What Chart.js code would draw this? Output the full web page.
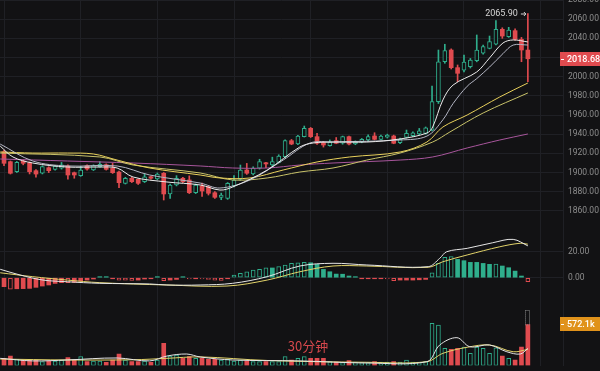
<!DOCTYPE html>
<html>
<head>
<meta charset="utf-8">
<script src="https://cdn.jsdelivr.net/npm/chart.js@4.4.1/dist/chart.umd.min.js"></script>
<style>
  html, body { margin: 0; padding: 0; background: #121214; }
  #wrap { position: relative; width: 600px; height: 371px; overflow: hidden; background: #121214; }
  canvas { position: absolute; left: 0; }
</style>
</head>
<body>
<div id="wrap">
  <canvas id="mainChart" width="600" height="230" style="top:0"></canvas>
  <canvas id="macdChart" width="600" height="68" style="top:230px"></canvas>
  <canvas id="volChart" width="600" height="73" style="top:298px"></canvas>
</div>
<script>
// 30 minute candles, oldest first
const opens  = [1921.7,1911.3,1900.8,1912.0,1910.2,1901.9,1899.2,1905.0,1903.3,1904.4,1906.8,1899.8,1896.7,1907.1,1902.6,1906.1,1908.1,1904.4,1900.5,1888.7,
                1893.9,1892.9,1890.4,1895.6,1893.2,1899.2,1877.6,1887.0,1894.0,1892.2,1878.9,1886.0,1885.2,1878.9,1874.1,1873.0,1885.9,1892.9,1902.6,1898.4,
                1904.4,1910.2,1907.8,1910.6,1916.5,1933.2,1929.7,1937.4,1946.1,1937.4,1931.1,1928.0,1933.2,1930.5,1937.4,1929.7,1932.1,1933.9,1938.1,1934.6,
                1936.8,1938.1,1931.1,1936.7,1938.4,1940.2,1940.9,1944.3,1973.9,2015.6,2027.8,2009.4,2006.9,2010.4,2016.7,2024.4,2029.6,2033.8,2049.4,2041.7,
                2048.0,2039.0,2027.8];
const highs  = [1923.5,1912.0,1911.5,1913.0,1911.0,1903.0,1907.0,1906.0,1907.5,1910.5,1908.0,1900.5,1906.5,1908.0,1908.0,1911.5,1909.0,1909.5,1901.5,1895.0,
                1895.0,1893.5,1898.5,1896.0,1899.5,1900.0,1888.0,1896.7,1895.0,1896.5,1888.0,1889.0,1886.0,1880.0,1878.5,1889.5,1896.7,1907.8,1909.5,1906.0,
                1913.8,1910.5,1916.0,1918.5,1934.0,1934.5,1938.8,1948.5,1947.0,1941.0,1932.5,1934.0,1936.5,1938.0,1938.0,1933.0,1935.5,1939.2,1941.5,1939.0,
                1940.0,1939.0,1936.0,1944.3,1942.5,1946.0,1947.5,1990.3,2027.8,2033.8,2029.0,2012.2,2022.6,2019.0,2043.5,2033.0,2042.4,2058.4,2051.0,2051.5,
                2050.0,2041.0,2065.9];
const lows   = [1907.1,1898.4,1900.0,1908.0,1898.5,1895.0,1898.5,1899.9,1902.5,1903.5,1893.0,1894.0,1896.0,1902.5,1902.0,1905.5,1902.5,1899.0,1884.1,1888.0,
                1889.5,1887.5,1889.5,1893.0,1892.5,1871.3,1873.0,1886.0,1889.5,1878.0,1878.0,1875.0,1876.5,1873.0,1871.6,1872.0,1885.0,1892.0,1898.0,1897.5,
                1903.5,1905.0,1906.0,1910.0,1915.5,1929.0,1929.0,1937.0,1936.5,1929.3,1926.5,1927.5,1930.0,1929.5,1928.7,1929.0,1931.0,1933.0,1934.0,1934.0,
                1936.0,1930.0,1930.0,1936.0,1937.5,1939.5,1940.0,1943.5,1972.0,2014.0,2008.0,1994.8,2005.0,2009.0,2015.5,2023.5,2029.0,2033.0,2040.0,2041.0,
                2038.0,2015.6,1994.8];
const closes = [1909.6,1899.2,1910.6,1909.6,1900.8,1898.4,1906.1,1901.9,1906.8,1908.1,1897.4,1897.4,1902.6,1903.6,1907.1,1908.6,1903.3,1899.8,1889.4,1893.9,
                1890.4,1888.7,1895.6,1894.0,1898.4,1877.6,1886.9,1894.0,1890.4,1878.9,1886.9,1880.7,1878.3,1874.1,1876.5,1888.7,1892.2,1902.6,1899.2,1904.6,
                1911.3,1908.9,1911.3,1917.2,1933.2,1929.7,1938.1,1946.1,1937.4,1930.5,1928.7,1932.1,1930.5,1937.4,1929.7,1932.1,1934.6,1937.4,1934.6,1938.1,
                1939.1,1930.5,1934.6,1940.9,1941.5,1943.6,1946.7,1973.9,2015.6,2027.1,2009.4,2003.5,2015.3,2017.4,2027.8,2031.3,2036.5,2049.4,2042.4,2048.7,
                2039.0,2027.8,2018.68];
// volume in thousands
const volumes = [100,132,87,77,77,77,53,63,63,77,109,77,123,53,63,63,45,77,160,77,
                 53,53,63,45,77,310,132,146,100,123,100,100,87,87,77,87,63,77,63,53,
                 53,53,53,53,123,77,100,123,100,100,100,56,46,40,70,46,40,40,56,46,
                 46,56,46,77,46,46,56,589,565,240,226,240,258,170,258,240,170,245,132,100,
                 77,258,572.1];
const volEstimate = 774;
// MACD histogram
const macdHist = [-6.9,-8.9,-8.5,-8.4,-8.2,-7.4,-6.4,-5.6,-4.4,-3.8,-3.9,-3.6,-2.6,-1.8,-1.0,0.8,0.8,-0.8,-1.8,-1.9,
                  -2.0,-1.8,-1.0,-0.8,0.8,-2.3,-1.8,-1.3,0.6,-0.9,-0.8,-0.9,-1.3,-1.8,-2.0,-0.8,2.0,3.3,4.6,5.9,
                  6.4,7.7,7.5,8.5,9.7,11.0,11.5,11.8,11.5,10.3,6.4,4.6,2.8,2.7,1.3,0.8,-0.8,-0.8,-0.8,-0.8,
                  -0.9,-2.3,-1.8,-1.8,-1.8,-1.6,-1.3,3.8,11.0,15.6,16.2,14.1,13.1,11.8,11.8,11.0,10.3,10.5,9.0,7.7,
                  5.1,1.3,-3.1];
// lines as [candle index, value]
const ma5 = [[-0.6,1927.6],[1.4,1916.2],[4.5,1909.9],[9.9,1905.7],[15,1905.7],[17.7,1904.7],[20.2,1895.3],[25.5,1890.1],[30.7,1887],[33.8,1881.7],
             [35.8,1884.9],[41.2,1902.6],[46.3,1926.6],[48.4,1930.8],[51.5,1931.8],[56.8,1931.8],[62,1935],[66.2,1941.2],[67.1,1947.5],[68.7,1975.7],
             [70.3,1991.3],[74,2004.9],[76,2019.5],[78.1,2035.1],[79.7,2038.3],[82,2036.2]];
const ma10 = [[-0.6,1929.7],[4.5,1912],[9.9,1906.8],[17.7,1906.8],[22.8,1897.4],[30.7,1889],[33.8,1883.8],[38.5,1892.2],[43.7,1913],[47.9,1930.8],
              [51.5,1931.8],[62,1933.9],[66.2,1938],[68.7,1955],[70.3,1972],[72.5,1990],[74,1998],[76,2010],[78.1,2024],[79.7,2033],[82,2033]];
const ma20 = [[-0.6,1921.4],[4.5,1920.3],[9.9,1920.3],[14,1919.3],[17.7,1913],[22.8,1904.7],[30.7,1897.4],[33.8,1894.3],[38.5,1894.3],[43.7,1902.6],
              [49,1911],[54.1,1916.2],[62,1921.4],[66.2,1931.8],[68.7,1947.5],[72.5,1960],[77.6,1978.8],[82,1993.4]];
const ma30 = [[-0.6,1920.3],[15,1916.2],[20.2,1907.8],[30.7,1899.5],[35.8,1892.2],[41.2,1894.3],[46.3,1900.5],[51.5,1904.7],[56.8,1913],[62,1920.3],
              [67.1,1931.8],[69.8,1942.3],[75,1962.1],[82,1983]];
const ma60 = [[-0.6,1914.1],[9.9,1912],[20.2,1909.9],[30.7,1906.8],[35.8,1904.7],[41.2,1904.7],[46.3,1907.8],[51.5,1909.9],[62,1913],[67.1,1916.2],
              [72.5,1925.6],[77.6,1933.9],[82,1940.2]];
const dif = [[-0.6,6.5],[2.5,2.1],[6.1,-1.8],[9.9,-3.1],[15,-4.3],[22.8,-4.8],[25.5,-5.6],[30.7,-5.6],[35.8,-4.3],[41.2,0.8],
             [46.3,9.0],[51.5,11.1],[56.8,9.8],[66.4,8.5],[68.2,14.9],[69.3,20.0],[72.5,22.6],[76.5,26.9],[79.7,29.5],[82,24.5]];
const dea = [[-0.6,3.8],[4.5,0.8],[9.9,-1.8],[15,-3.8],[25.5,-5.6],[34.9,-6.4],[41.2,-1.8],[46.3,4.6],[51.5,9.0],[56.8,9.0],
             [66.4,8.0],[68.7,12.3],[72.5,17.5],[77.6,23.8],[80.8,26.5],[82,25.8]];
const volMa5 = [[-0.6,100],[4.5,64],[9.9,77],[17.7,105],[22.8,64],[25.5,132],[28.6,160],[30.7,119],[35.8,77],[46.3,64],
                [56.8,35],[66.2,53],[68.2,286],[70.9,388],[72.9,262],[76,286],[78.7,192],[80.8,160],[82,238]];
const volMa10 = [[-0.6,90],[9.9,77],[20.2,80],[25.5,100],[30.7,120],[41.2,70],[56.8,45],[66.2,53],[68.7,170],[72.5,254],
                 [76,286],[79.7,192],[82,225]];
const priceTicks = [1860,1880,1900,1920,1940,1960,1980,2000,2020,2040,2060,2080];
const macdTicks = [0, 20];
const highLabel = '2065.90';
const intervalLabel = '30分钟';

const bg = '#121214';
const gridColor = '#1f2025';
const upColor = '#2fae8c';
const downColor = '#e04b4f';
const labelColor = '#8e8e8e';
const xGrid = [6, 18, 30, 42, 54, 66, 78];

Chart.defaults.font.family = 'Roboto';
Chart.defaults.font.size = 8.5;
Chart.defaults.animation = false;

const idx = closes.map((c, i) => i);
const isUp = i => closes[i] >= opens[i];

function xScale() {
    return {
        type: 'linear', min: -0.63, max: 87.5, offset: false,
        grid: { color: gridColor, drawTicks: false },
        border: { display: false },
        ticks: { display: false },
        afterBuildTicks: s => { s.ticks = xGrid.map(v => ({ value: v })); },
        afterFit: s => { s.height = 0; }
    };
}

function yScale(min, max, ticks, fmt) {
    return {
        position: 'right', min: min, max: max,
        grid: { color: gridColor, drawTicks: false },
        border: { display: true, color: gridColor },
        ticks: { display: !!fmt, padding: 5, color: labelColor, callback: fmt },
        afterBuildTicks: s => { s.ticks = ticks.map(v => ({ value: v })); },
        afterFit: s => { s.width = 37; s.paddingTop = 0; s.paddingBottom = 0; }
    };
}

function lineSet(points, color) {
    return {
        type: 'line', data: points.map(p => ({ x: p[0], y: p[1] })),
        borderColor: color, borderWidth: 1, pointRadius: 0, tension: 0.35, order: 0
    };
}

function baseOptions(yOpts) {
    return {
        responsive: false,
        layout: { padding: 0 },
        plugins: { legend: { display: false }, tooltip: { enabled: false } },
        scales: { x: xScale(), y: yOpts }
    };
}

function drawTag(ctx, y, text, color) {
    ctx.save();
    ctx.fillStyle = color;
    ctx.fillRect(560, Math.round(y) - 7, 40, 14);
    ctx.fillStyle = '#ffffff';
    ctx.fillRect(561, Math.round(y), 3, 1);
    ctx.font = '500 9px Roboto';
    ctx.textBaseline = 'middle';
    ctx.textAlign = 'left';
    ctx.fillText(text, 567, Math.round(y) + 0.5);
    ctx.restore();
}

// main candle pane
new Chart(document.getElementById('mainChart'), {
    type: 'bar',
    data: {
        datasets: [
            lineSet(ma5, '#ececec'),
            lineSet(ma10, '#b4b6c4'),
            lineSet(ma20, '#e9d15c'),
            lineSet(ma30, '#c9c36a'),
            lineSet(ma60, '#a8569c'),
            {
                data: idx.map(i => ({ x: i, y: [opens[i], closes[i]] })),
                backgroundColor: idx.map(i => isUp(i) ? bg : downColor),
                borderColor: idx.map(i => isUp(i) ? upColor : downColor),
                borderWidth: idx.map(i => isUp(i) ? 1 : 0),
                borderSkipped: false, barThickness: 4, minBarLength: 1, grouped: false, order: 1
            },
            {
                data: idx.map(i => ({ x: i, y: [lows[i], highs[i]] })),
                backgroundColor: idx.map(i => isUp(i) ? upColor : downColor),
                barThickness: 1, grouped: false, order: 2
            }
        ]
    },
    options: baseOptions(yScale(1840, 2080, priceTicks, v => v.toFixed(2))),
    plugins: [{
        id: 'priceTags',
        afterDraw(chart) {
            const ctx = chart.ctx;
            const last = closes.length - 1;
            const x = chart.scales.x.getPixelForValue(last);
            const yHigh = chart.scales.y.getPixelForValue(highs[last]);
            ctx.save();
            ctx.fillStyle = '#d6d6d6';
            ctx.font = '9px Roboto';
            ctx.textAlign = 'right';
            ctx.textBaseline = 'middle';
            ctx.fillText(highLabel, x - 10, yHigh);
            ctx.strokeStyle = '#d6d6d6';
            ctx.lineWidth = 1;
            ctx.beginPath();
            ctx.moveTo(x - 7, yHigh + 0.5); ctx.lineTo(x - 2, yHigh + 0.5);
            ctx.moveTo(x - 4, yHigh - 1.5); ctx.lineTo(x - 2, yHigh + 0.5); ctx.lineTo(x - 4, yHigh + 2.5);
            ctx.stroke();
            ctx.restore();
            drawTag(ctx, chart.scales.y.getPixelForValue(closes[last]), closes[last].toFixed(2), downColor);
        }
    }]
});

// MACD pane
new Chart(document.getElementById('macdChart'), {
    type: 'bar',
    data: {
        datasets: [
            lineSet(dif, '#e6e6e6'),
            lineSet(dea, '#e2d36a'),
            {
                data: idx.map(i => ({ x: i, y: macdHist[i] })),
                backgroundColor: idx.map(i => {
                    const hollow = i > 0 && Math.abs(macdHist[i]) > Math.abs(macdHist[i - 1]);
                    return hollow ? bg : (macdHist[i] >= 0 ? upColor : downColor);
                }),
                borderColor: idx.map(i => macdHist[i] >= 0 ? upColor : downColor),
                borderWidth: idx.map(i => (i > 0 && Math.abs(macdHist[i]) > Math.abs(macdHist[i - 1])) ? 1 : 0),
                borderSkipped: false, barThickness: 4, minBarLength: 1, grouped: false, order: 1
            }
        ]
    },
    options: baseOptions(yScale(-15.6, 36.7, macdTicks, v => v.toFixed(2)))
});

// volume pane
const volOptions = baseOptions(yScale(0, 941.6, [0, 941.6], null));
volOptions.layout = { padding: { bottom: 5.5 } };
new Chart(document.getElementById('volChart'), {
    type: 'bar',
    data: {
        datasets: [
            lineSet(volMa5, '#e6e6e6'),
            lineSet(volMa10, '#e2d36a'),
            {
                data: idx.map(i => ({ x: i, y: volumes[i] })),
                backgroundColor: idx.map(i => isUp(i) ? bg : downColor),
                borderColor: idx.map(i => isUp(i) ? upColor : downColor),
                borderWidth: idx.map(i => isUp(i) ? 1 : 0),
                borderSkipped: false, barThickness: 4, grouped: false, order: 1
            }
        ]
    },
    options: volOptions,
    plugins: [{
        id: 'volTags',
        afterDraw(chart) {
            const ctx = chart.ctx;
            const last = volumes.length - 1;
            const x = chart.scales.x.getPixelForValue(last);
            const yEst = chart.scales.y.getPixelForValue(volEstimate);
            const yVol = chart.scales.y.getPixelForValue(volumes[last]);
            ctx.save();
            ctx.strokeStyle = '#8a8a8a';
            ctx.setLineDash([1, 1]);
            ctx.lineWidth = 1;
            ctx.strokeRect(Math.round(x) - 2.5, Math.round(yEst) + 0.5, 4, yVol - yEst);
            ctx.setLineDash([]);
            ctx.fillStyle = 'rgba(224, 75, 79, 0.95)';
            ctx.font = '13px "Noto Sans CJK SC"';
            ctx.textAlign = 'center';
            ctx.textBaseline = 'middle';
            ctx.fillText(intervalLabel, 308, 48);
            ctx.restore();
            drawTag(ctx, yVol, volumes[last].toFixed(1) + 'k', '#e0921b');
        }
    }]
});
</script>
</body>
</html>
